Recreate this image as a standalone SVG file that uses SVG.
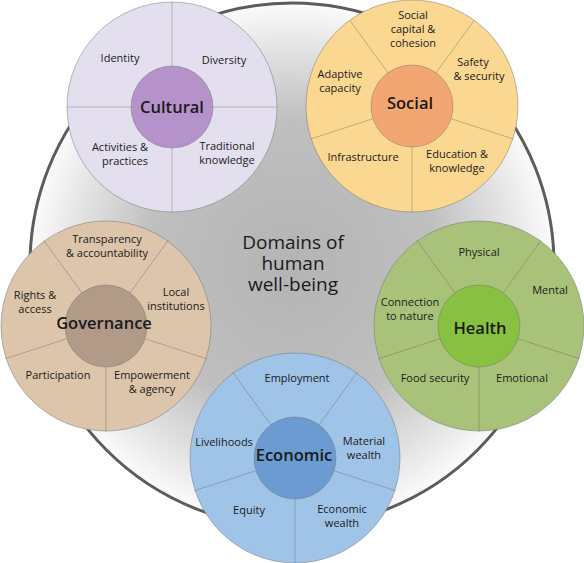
<svg xmlns="http://www.w3.org/2000/svg" width="584" height="563" viewBox="0 0 584 563">
<defs>
<radialGradient id="bg" cx="292" cy="265" r="262" gradientUnits="userSpaceOnUse">
<stop offset="0" stop-color="#b4b4b4"/>
<stop offset="0.55" stop-color="#bfbfbf"/>
<stop offset="0.82" stop-color="#e2e2e2"/>
<stop offset="1" stop-color="#fbfbfb"/>
</radialGradient>
<g id="spokes5">
<line x1="-24.1" y1="-33.2" x2="-62.3" y2="-85.8"/>
<line x1="24.1" y1="-33.2" x2="62.3" y2="-85.8"/>
<line x1="39" y1="12.7" x2="100.8" y2="32.8"/>
<line x1="0" y1="41" x2="0" y2="106"/>
<line x1="-39" y1="12.7" x2="-100.8" y2="32.8"/>
</g>
</defs>
<style>
.outer{stroke:#6a6a6a;stroke-opacity:0.45;stroke-width:1}
.inner{stroke:#6a6a6a;stroke-opacity:0.4;stroke-width:1}
.sp{stroke:#555;stroke-opacity:0.35;stroke-width:1;fill:none}
text{font-family:"Open Sans","Noto Sans","Liberation Sans",sans-serif;fill:#1a1a1a;text-anchor:middle}
.l{font-size:11px}
.c{font-size:16.5px;font-weight:600}
.t{font-size:19px}
</style>
<g id="backdrop">
<circle cx="292" cy="265" r="262" fill="url(#bg)" stroke="#5c5c5c" stroke-width="3"/>
</g>
<g id="title">
<text class="t" x="293" y="249">Domains of</text>
<text class="t" x="293" y="270">human</text>
<text class="t" x="293" y="291">well-being</text>
</g>
<g id="cultural" transform="translate(172,107)">
<circle class="outer" r="105" fill="#e4dfef"/>
<g class="sp"><line x1="0" y1="-41" x2="0" y2="-105"/><line x1="0" y1="41" x2="0" y2="105"/><line x1="-41" y1="0" x2="-105" y2="0"/><line x1="41" y1="0" x2="105" y2="0"/></g>
<circle class="inner" r="41" fill="#b592c9"/>
<text class="c" y="6">Cultural</text>
<text class="l" x="-52" y="-45">Identity</text>
<text class="l" x="52" y="-43">Diversity</text>
<text class="l" x="-52" y="44">Activities &amp;</text>
<text class="l" x="-47" y="58">practices</text>
<text class="l" x="55" y="43">Traditional</text>
<text class="l" x="55" y="57">knowledge</text>
</g>
<g id="social" transform="translate(412,106)">
<circle class="outer" r="106" fill="#fad892"/>
<g class="sp"><use href="#spokes5"/></g>
<circle class="inner" r="41" fill="#f2a672"/>
<text class="c" x="-2" y="3">Social</text>
<text class="l" x="1" y="-87">Social</text>
<text class="l" x="1" y="-73">capital &amp;</text>
<text class="l" x="1" y="-59">cohesion</text>
<text class="l" x="61" y="-40">Safety</text>
<text class="l" x="67" y="-26">&amp; security</text>
<text class="l" x="-72" y="-28">Adaptive</text>
<text class="l" x="-72" y="-14">capacity</text>
<text class="l" x="-49" y="55">Infrastructure</text>
<text class="l" x="45" y="52">Education &amp;</text>
<text class="l" x="45" y="66">knowledge</text>
</g>
<g id="governance" transform="translate(106,326)">
<circle class="outer" r="105" fill="#dcc5ab"/>
<g class="sp"><use href="#spokes5"/></g>
<circle class="inner" r="41" fill="#b29a89"/>
<text class="c" x="-2" y="3">Governance</text>
<text class="l" x="1" y="-83">Transparency</text>
<text class="l" x="1" y="-69">&amp; accountability</text>
<text class="l" x="-71" y="-27">Rights &amp;</text>
<text class="l" x="-71" y="-13">access</text>
<text class="l" x="70" y="-30">Local</text>
<text class="l" x="70" y="-16">institutions</text>
<text class="l" x="-48" y="53">Participation</text>
<text class="l" x="46" y="53">Empowerment</text>
<text class="l" x="46" y="67">&amp; agency</text>
</g>
<g id="health" transform="translate(479,326)">
<circle class="outer" r="105" fill="#a9c27a"/>
<g class="sp"><use href="#spokes5"/></g>
<circle class="inner" r="41" fill="#88c141"/>
<text class="c" x="1" y="8">Health</text>
<text class="l" x="0" y="-70">Physical</text>
<text class="l" x="71" y="-32">Mental</text>
<text class="l" x="-69" y="-20">Connection</text>
<text class="l" x="-69" y="-6">to nature</text>
<text class="l" x="-44" y="56">Food security</text>
<text class="l" x="43" y="56">Emotional</text>
</g>
<g id="economic" transform="translate(295,458)">
<circle class="outer" r="105" fill="#9fc4e8"/>
<g class="sp"><use href="#spokes5"/></g>
<circle class="inner" r="41" fill="#6b9bd0"/>
<text class="c" x="-1" y="3">Economic</text>
<text class="l" x="2" y="-76">Employment</text>
<text class="l" x="-71" y="-12">Livelihoods</text>
<text class="l" x="69" y="-13">Material</text>
<text class="l" x="69" y="1">wealth</text>
<text class="l" x="-46" y="56">Equity</text>
<text class="l" x="47" y="55">Economic</text>
<text class="l" x="47" y="69">wealth</text>
</g>
</svg>
